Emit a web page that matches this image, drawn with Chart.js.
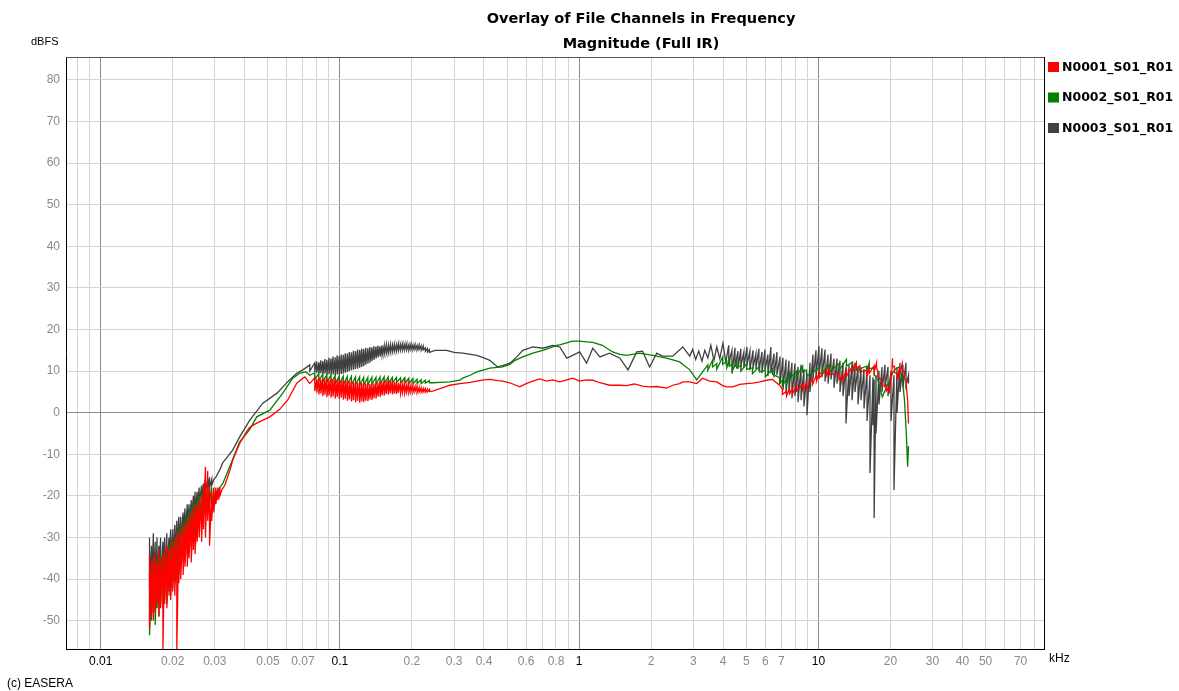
<!DOCTYPE html>
<html>
<head>
<meta charset="utf-8">
<title>Overlay of File Channels in Frequency</title>
<script src="https://cdn.jsdelivr.net/npm/chart.js@4.4.1/dist/chart.umd.min.js"></script>
<style>
  body { margin: 0; background: #fff; }
  #wrap { position: relative; width: 1179px; height: 691px; }
</style>
</head>
<body>
<div id="wrap"><canvas id="freqChart" width="1179" height="691"></canvas></div>
<script>
// ================== DATA ==================
const titleLines = ["Overlay of File Channels in Frequency", "Magnitude (Full IR)"];
const seriesNames = ["N0001_S01_R01", "N0002_S01_R01", "N0003_S01_R01"];
const seriesColors = ["#ff0000", "#008000", "#404040"];

// x gridlines (kHz) and the ones that carry a label
const gridFreqs = [0.008, 0.009,
  0.01, 0.02, 0.03, 0.04, 0.05, 0.06, 0.07, 0.08, 0.09,
  0.1, 0.2, 0.3, 0.4, 0.5, 0.6, 0.7, 0.8, 0.9,
  1, 2, 3, 4, 5, 6, 7, 8, 9,
  10, 20, 30, 40, 50, 60, 70, 80];
const freqLabels = [0.01, 0.02, 0.03, 0.05, 0.07, 0.1, 0.2, 0.3, 0.4, 0.6, 0.8,
  1, 2, 3, 4, 5, 6, 7, 10, 20, 30, 40, 50, 70];
const dbTicks = [-50, -40, -30, -20, -10, 0, 10, 20, 30, 40, 50, 60, 70, 80];

// [kHz, dBFS] or, where the trace is a noisy band, [kHz, top dBFS, bottom dBFS]
const redTrace = [
  [0.0160,-34,-52],[0.0163,-36,-49],[0.0166,-35,-50],[0.0169,-34,-48],[0.0172,-36,-46],[0.0175,-33,-49],
  [0.0178,-35,-47],[0.0182,-34,-57],[0.0185,-33,-46],[0.0189,-32,-47],[0.0193,-33,-44],[0.0196,-31,-45],
  [0.0200,-32,-43],[0.0204,-30,-44],[0.0208,-29,-57],[0.0212,-29,-41],[0.0216,-28,-40],[0.0221,-27,-39],
  [0.0225,-27,-37],[0.0230,-26,-37],[0.0234,-25,-35],[0.0239,-24,-36],[0.0244,-23,-33],[0.0248,-22,-34],
  [0.0253,-22,-31],[0.0258,-21,-30],[0.0264,-20,-31],[0.0269,-18,-28],[0.0274,-13,-30],[0.0280,-14,-26],
  [0.0285,-18,-32],[0.0291,-19,-26],[0.0297,-18,-24],[0.0303,-18,-22],[0.0309,-18,-21],[0.0315,-18,-20],
  [0.0321,-18.5],[0.0330,-17.5],[0.0346,-14],[0.0356,-11.5],[0.0381,-7.4],[0.0408,-4.5],[0.0420,-3.5],
  [0.0449,-2.5],[0.0509,-1.0],[0.0560,0.8],[0.0604,3.0],[0.0660,7.1],[0.0700,8.3],[0.0714,8.6],[0.0748,7.0],
  [0.0785,8.4,5.2],[0.0800,8.1,4.8],[0.0816,8.5,4.4],[0.0832,8.0,4.6],[0.0848,8.3,4.0],[0.0865,8.1,4.3],
  [0.0882,8.4,3.8],[0.0900,7.9,4.1],[0.0918,8.2,3.6],[0.0936,8.0,3.9],[0.0955,8.3,3.4],[0.0974,7.8,3.8],
  [0.0993,8.1,3.3],[0.1013,7.7,3.6],[0.1033,8.0,3.1],[0.1053,7.6,3.4],[0.1074,7.9,2.9],[0.1095,7.5,3.2],
  [0.1117,7.8,2.7],[0.1139,7.3,3.0],[0.1162,7.6,2.5],[0.1185,7.2,2.8],[0.1209,7.5,2.4],[0.1233,7.1,2.7],
  [0.1257,7.3,2.5],[0.1282,7.0,2.9],[0.1308,7.2,2.8],[0.1334,6.9,3.2],[0.1360,7.1,3.1],[0.1387,7.0,3.5],
  [0.1415,7.3,3.4],[0.1443,7.2,3.9],[0.1472,7.6,3.8],[0.1501,7.4,4.2],[0.1531,7.8,4.1],[0.1562,7.6,4.5],
  [0.1593,7.9,4.4],[0.1625,7.6,4.7],[0.1657,7.7,4.4],[0.1690,7.4,4.6],[0.1724,7.5,4.5],[0.1758,7.2,4.8],
  [0.1793,7.3,4.6],[0.1829,7.0,4.9],[0.1866,7.1,4.7],[0.1903,6.8,5.0],[0.1941,6.9,4.8],[0.1980,6.6,5.0],
  [0.2019,6.6,4.9],[0.2060,6.3,5.1],[0.2101,6.4,4.8],[0.2143,6.1,5.0],[0.2186,6.0,4.9],[0.2230,5.8,5.0],
  [0.2274,5.8,4.9],[0.2320,5.6,5.0],[0.2366,5.6,5.1],
  [0.244,5.2],[0.262,5.8],[0.288,6.6],[0.317,7.0],[0.350,7.3],[0.373,7.6],[0.400,7.9],[0.423,8.0],
  [0.456,7.7],[0.479,7.6],[0.513,7.2],[0.564,6.2],[0.600,7.0],[0.640,7.6],[0.684,8.1],[0.730,7.6],
  [0.775,7.9],[0.828,7.4],[0.887,7.9],[0.939,8.3],[1.005,7.6],[1.074,7.9],[1.14,7.8],[1.22,7.2],
  [1.34,6.6],[1.48,6.6],[1.58,6.5],[1.70,6.9],[1.84,6.4],[1.97,6.2],[2.11,6.3],[2.32,5.9],
  [2.46,6.6],[2.63,7.0],[2.71,7.4],[2.90,7.4],[3.10,7.0],[3.28,8.3],[3.51,7.6],[3.76,7.4],
  [3.98,6.5],[4.14,6.2],[4.38,6.2],[4.69,6.8],[5.01,7.0],[5.31,7.1],[5.68,7.4],[6.07,7.8],
  [6.43,8.0],[6.88,6.6],[7.08,5.6,4.4],[7.36,5.2,4.0],[7.58,5.9,4.6],[7.80,5.8,4.6],[8.11,6.5,5.2],
  [8.59,6.8,5.4],[8.92,7.2,5.8],[9.45,8.3,6.8],[9.82,9.0,7.6],[10.1,9.8,8.4],[10.8,10.3,8.9],[11.1,10.4,9.2],
  [12.2,9.5,8.0],[12.6,9.0,7.6],[13.1,10.2,8.8],[13.9,11.2,9.8],[14.4,12.0,10.6],[14.9,11.3,9.8],
  [15.9,10.2,8.8],[16.3,10.9,9.4],[17.1,11.3,9.8],[17.5,12.0,10.6],[17.7,10.2,8.6],[18.5,7.8,6.4],
  [19.2,6.8,5.2],[19.8,6.2,4.6],[20.2,9.8,8.2],[20.4,13.1,11.0],[20.8,11.2,9.6],[21.4,9.4,7.8],
  [21.8,10.8,9.2],[22.4,11.8,10.2],[22.9,9.8,8.2],[23.3,7.8,6.4],[23.6,3.0],[23.8,-2.6]
];

const greenTrace = [
  [0.0160,-38,-53.5],[0.0163,-37,-50],[0.0166,-36,-48],[0.0169,-36,-51],[0.0172,-35,-47],[0.0175,-35,-49],
  [0.0178,-34,-46],[0.0182,-34,-47],[0.0185,-33,-45],[0.0189,-33,-46],[0.0193,-32,-43],[0.0196,-31,-44],
  [0.0200,-31,-42],[0.0204,-30,-41],[0.0208,-29,-40],[0.0212,-28,-39],[0.0216,-27,-37],[0.0221,-27,-36],
  [0.0225,-26,-35],[0.0230,-25,-34],[0.0234,-24,-33],[0.0239,-23,-32],[0.0244,-22,-30],[0.0248,-22,-29],
  [0.0253,-21,-28],[0.0258,-20,-27],[0.0264,-19,-26],[0.0269,-19,-25],[0.0274,-18,-24],[0.0280,-18,-23],
  [0.0285,-18,-22],[0.0291,-18,-21],[0.0300,-19.5],[0.0310,-18.5],
  [0.0324,-17],[0.0346,-13],[0.0381,-7],[0.0418,-4.2],[0.0449,-1.0],[0.0509,0.6],[0.0577,4.7],
  [0.0635,8.3],[0.0679,9.5],[0.0720,9.8],[0.0748,9.0],
  [0.0785,9.6,8.0],[0.0816,9.4,7.6],[0.0848,9.3,7.5],[0.0882,9.1,7.3],[0.0918,9.0,7.2],[0.0955,8.9,7.0],
  [0.0993,8.8,6.9],[0.1033,8.8,6.8],[0.1074,8.7,6.8],[0.1117,8.7,6.7],[0.1162,8.6,6.7],[0.1209,8.6,6.6],
  [0.1257,8.5,6.6],[0.1308,8.5,6.7],[0.1360,8.5,6.8],[0.1415,8.5,6.9],[0.1472,8.6,7.0],[0.1531,8.6,7.1],
  [0.1593,8.6,7.1],[0.1657,8.5,7.2],[0.1724,8.5,7.2],[0.1793,8.4,7.1],[0.1866,8.4,7.1],[0.1941,8.3,7.0],
  [0.2019,8.2,7.0],[0.2101,8.0,7.0],[0.2186,7.9,7.0],[0.2274,7.8,7.1],[0.2366,7.7,7.2],
  [0.244,7.2],[0.262,7.3],[0.288,7.4],[0.317,7.8],[0.326,8.3],[0.350,9.0],[0.373,9.8],[0.400,10.3],
  [0.423,10.7],[0.456,10.9],[0.479,11.0],[0.513,11.6],[0.540,12.6],[0.581,13.4],[0.640,14.3],[0.704,15.0],
  [0.775,15.8],[0.805,16.2],[0.828,16.3],[0.887,16.8],[0.912,17.0],[0.939,17.2],[1.005,17.2],[1.074,17.0],
  [1.14,16.9],[1.25,16.2],[1.38,14.6],[1.48,14.0],[1.58,13.8],[1.79,14.3],[2.03,13.8],[2.32,13.1],
  [2.63,12.2],[2.90,10.3],[3.10,7.9],[3.28,9.8],[3.45,11.5,10.2],[3.61,12.6,11.0],[3.76,11.8,10.4],
  [3.98,13.4,11.6],[4.14,12.4,10.8],[4.26,12.8,11.2],[4.38,11.6,10.2],[4.55,12.2,10.8],[4.75,11.4,10.0],
  [5.01,11.8,10.4],[5.30,10.8,9.4],[5.68,11.2,9.8],[6.00,10.2,8.6],[6.43,10.6,9.2],[6.88,8.4,7.0],
  [7.08,7.8,6.6],[7.36,8.0,6.8],[7.58,9.4,8.2],[8.11,10.0,8.8],[8.59,11.2,9.8],[8.92,10.2,8.8],
  [10.1,10.8,9.2],[11.1,11.4,9.8],[12.2,11.8,10.2],[13.1,12.8,11.2],[13.9,12.2,10.6],[14.4,11.8,10.2],
  [15.9,11.2,9.8],[16.3,12.0,10.6],[17.1,10.8,9.2],[17.7,8.0],[18.5,3.8],[19.2,6.0],[19.8,7.5],
  [20.4,9.5],[21.0,10.5],[21.8,11.0],[22.4,8.5],[22.9,3.0],[23.3,-5],[23.6,-13],[23.8,-8]
];

const grayTrace = [
  [0.0160,-30,-42],[0.0163,-32,-44],[0.0166,-29,-40],[0.0169,-31,-45],[0.0172,-30,-42],[0.0175,-32,-40],
  [0.0178,-30,-41],[0.0182,-31,-39],[0.0185,-30,-40],[0.0189,-29,-38],[0.0193,-30,-37],[0.0196,-28,-36],
  [0.0200,-28,-36],[0.0204,-27,-35],[0.0208,-26,-34],[0.0212,-25,-32],[0.0216,-25,-31],[0.0221,-24,-30],
  [0.0225,-23,-29],[0.0230,-22,-28],[0.0234,-22,-27],[0.0239,-21,-26],[0.0244,-20,-25],[0.0248,-19,-24],
  [0.0253,-19,-23],[0.0258,-18,-22],[0.0264,-17.5,-21],[0.0269,-17,-20],[0.0274,-16,-19],[0.0280,-16,-18.5],
  [0.0285,-15.5,-18],[0.0291,-16,-17.5],
  [0.0297,-16],[0.0303,-15.5],[0.0316,-13.5],[0.0324,-12],[0.0340,-10.5],[0.0356,-9],[0.0381,-5.8],
  [0.0420,-1.8],[0.0476,2.3],[0.0546,4.7],[0.0604,7.4],[0.0660,9.5],[0.0700,10.3],[0.0748,11.5,10.0],
  [0.0785,12.0,9.8],[0.0800,12.3,9.6],[0.0816,12.1,9.4],[0.0832,12.6,9.5],[0.0848,12.4,9.2],[0.0865,12.9,9.4],
  [0.0882,12.7,9.1],[0.0900,13.2,9.3],[0.0918,13.0,9.0],[0.0936,13.5,9.2],[0.0955,13.3,8.9],[0.0974,13.8,9.2],
  [0.0993,13.6,9.0],[0.1013,14.0,9.3],[0.1033,13.9,9.4],[0.1053,14.3,9.6],[0.1074,14.2,9.8],[0.1095,14.6,10.0],
  [0.1117,14.5,10.2],[0.1139,14.9,10.3],[0.1162,14.8,10.5],[0.1185,15.2,10.6],[0.1209,15.1,10.8],[0.1233,15.4,11.0],
  [0.1257,15.3,11.2],[0.1282,15.6,11.5],[0.1308,15.5,11.8],[0.1334,15.8,12.0],[0.1360,15.7,12.4],[0.1387,16.0,12.7],
  [0.1415,15.9,13.0],[0.1443,16.1,13.3],[0.1472,16.0,13.5],[0.1501,16.2,13.8],[0.1531,16.1,14.0],[0.1562,16.3,14.2],
  [0.1593,16.2,14.3],[0.1625,16.4,14.5],[0.1657,16.3,14.6],[0.1690,16.5,14.7],[0.1724,16.4,14.8],[0.1758,16.6,14.9],
  [0.1793,16.5,15.0],[0.1829,16.6,15.0],[0.1866,16.5,15.1],[0.1903,16.6,15.1],[0.1941,16.4,15.0],[0.1980,16.5,15.2],
  [0.2019,16.3,15.1],[0.2060,16.4,15.2],[0.2101,16.2,15.1],[0.2143,16.3,15.2],[0.2186,16.1,15.0],[0.2230,16.0,15.1],
  [0.2274,15.6,14.8],[0.2320,15.4,14.6],[0.2366,15.2,14.5],
  [0.250,15.0],[0.279,15.0],[0.300,14.5],[0.326,14.3],[0.373,13.8],[0.400,13.2],[0.423,12.6],[0.445,11.5],
  [0.456,11.0],[0.479,11.3],[0.513,11.9],[0.540,13.0],[0.581,15.0],[0.640,15.8],[0.704,15.5],[0.775,16.2],
  [0.830,15.8],[0.887,13.1],[0.912,13.4],[1.005,14.6],[1.074,11.9],[1.14,15.5],[1.22,13.4],[1.34,14.3],
  [1.48,13.1],[1.60,10.3],[1.74,14.6],[1.84,14.8],[1.97,11.0],[2.11,14.3],[2.23,13.6],[2.46,13.6],
  [2.71,15.8],
  [2.90,13.6],[2.98,15.2],[3.07,12.8],[3.16,14.8],[3.26,12.4],[3.35,15.0],[3.45,13.2],[3.55,16.2],
  [3.66,12.6],[3.76,15.8],[3.87,13.0],[3.99,16.7],[4.10,12.2],
  [4.22,16.2,12.0],[4.35,15.0,9.4],[4.48,15.6,11.0],[4.61,14.8,10.5],[4.74,15.4,11.2],
  [4.88,14.6,10.8],[5.03,15.8,11.5],[5.17,14.8,10.2],[5.33,15.0,10.8],[5.48,14.2,10.5],[5.64,15.4,10.0],
  [5.81,14.6,9.5],[5.98,15.2,10.2],[6.15,14.0,8.8],[6.33,15.8,9.5],[6.52,14.2,8.5],[6.71,14.6,9.0],
  [6.91,13.5,7.0],[7.11,13.2,5.5],[7.32,12.8,4.5],[7.53,12.5,5.0],[7.75,12.0,3.5],[7.98,11.8,4.0],
  [8.22,11.0,2.5],[8.46,11.5,3.0],[8.70,10.5,1.5],[8.96,9.5,-0.6],[9.22,12.0,5.0],[9.49,14.0,8.0],
  [9.77,15.0,8.5],[10.06,16.0,9.0],[10.35,15.5,8.5],[10.66,15.2,7.5],[10.97,14.0,7.0],[11.29,14.2,8.0],
  [11.62,13.0,6.0],[11.96,13.0,7.0],[12.31,12.5,5.0],[12.67,12.0,4.0],[13.04,11.0,-2.6],[13.43,11.5,4.0],
  [13.82,11.8,3.0],[14.22,12.0,5.0],[14.64,11.0,2.0],[15.07,11.0,3.0],[15.51,10.5,1.0],[15.97,10.0,-2.0],
  [16.43,9.0,-14.5],[16.91,8.5,-3.0],[17.10,8.0,-25.3],[17.41,9.0,-5.0],[17.92,10.0,2.0],[18.44,11.0,5.0],
  [18.98,11.5,6.0],[19.54,11.0,4.0],[20.11,10.0,-2.0],[20.70,9.0,-18.6],[21.31,11.0,0],[21.93,12.0,5.0],
  [22.57,11.5,6.0],[23.23,12.0,6.5],[23.80,9.0,7.0]
];

const traces = [redTrace, greenTrace, grayTrace];

// ================== HELPERS ==================
const FONT = '"Liberation Sans", Arial, sans-serif';
const BOLD_FONT = '"DejaVu Sans", Verdana, sans-serif';
const near = (a, b) => Math.abs(a - b) <= Math.abs(b) * 1e-6;
const isDecade = (v) => Math.abs(Math.log10(v) - Math.round(Math.log10(v))) < 1e-6;

// a band entry becomes a vertical stroke at its frequency
function toPoints(trace) {
  return trace.flatMap(e =>
    e.length === 3 ? [{ x: e[0], y: e[1] }, { x: e[0], y: e[2] }] : [{ x: e[0], y: e[1] }]
  );
}

// texts and frame that EASERA draws outside the plot
const easeraText = {
  id: "easeraText",
  afterDraw(chart) {
    const ctx = chart.ctx;
    const a = chart.chartArea;
    ctx.save();
    ctx.lineWidth = 1;
    ctx.strokeStyle = "#555";
    ctx.beginPath();
    ctx.moveTo(a.left, a.top + 0.5);
    ctx.lineTo(a.right, a.top + 0.5);
    ctx.stroke();
    ctx.strokeStyle = "#000";
    ctx.beginPath();
    ctx.moveTo(a.right + 0.5, a.top);
    ctx.lineTo(a.right + 0.5, a.bottom);
    ctx.stroke();

    ctx.fillStyle = "#000";
    ctx.textBaseline = "middle";
    ctx.textAlign = "center";
    ctx.font = "bold 14.5px " + BOLD_FONT;
    ctx.fillText(titleLines[0], 641, 19);
    ctx.fillText(titleLines[1], 641, 44);

    ctx.textAlign = "left";
    ctx.font = "11px " + FONT;
    ctx.fillText("dBFS", 31, 42);
    ctx.font = "12px " + FONT;
    ctx.fillText("kHz", 1049, 659);
    ctx.fillText("(c) EASERA", 7, 684);

    ctx.font = "bold 12.5px " + BOLD_FONT;
    seriesNames.forEach((name, i) => {
      const y = 67 + i * 30.5;
      ctx.fillStyle = seriesColors[i];
      ctx.fillRect(1048, y - 5, 11, 10);
      ctx.fillStyle = "#000";
      ctx.fillText(name, 1062, y + 0.5);
    });
    ctx.restore();
  }
};

// ================== CHART ==================
const ctx = document.getElementById("freqChart").getContext("2d");
new Chart(ctx, {
  type: "scatter",
  data: {
    datasets: traces.map((t, i) => ({
      label: seriesNames[i],
      data: toPoints(t),
      showLine: true,
      borderColor: seriesColors[i],
      backgroundColor: seriesColors[i],
      borderWidth: 1.3,
      pointRadius: 0,
      tension: 0
    }))
  },
  options: {
    responsive: false,
    animation: false,
    layout: { padding: { left: 0, top: 57, right: 135, bottom: 0 } },
    plugins: {
      legend: { display: false },
      title: { display: false },
      tooltip: { enabled: false }
    },
    scales: {
      x: {
        type: "logarithmic",
        min: 0.00716,
        max: 87.7,
        afterBuildTicks: (axis) => { axis.ticks = gridFreqs.map(v => ({ value: v })); },
        afterFit: (axis) => { axis.height = 42; },
        border: { color: "#000", width: 1 },
        grid: {
          drawTicks: false,
          color: (c) => (c.tick && isDecade(c.tick.value) ? "#8c8c8c" : "#d4d4d4"),
          lineWidth: 1
        },
        ticks: {
          autoSkip: false,
          maxRotation: 0,
          padding: 5,
          font: { family: FONT, size: 12 },
          color: (c) => (c.tick && isDecade(c.tick.value) ? "#000" : "#8a8a8a"),
          callback: (v) => (freqLabels.some(l => near(v, l)) ? String(v) : "")
        }
      },
      y: {
        min: -56.8,
        max: 85.5,
        afterBuildTicks: (axis) => { axis.ticks = dbTicks.map(v => ({ value: v })); },
        afterFit: (axis) => { axis.width = 66; },
        border: { color: "#000", width: 1 },
        grid: {
          drawTicks: false,
          color: (c) => (c.tick && c.tick.value === 0 ? "#8c8c8c" : "#d4d4d4"),
          lineWidth: 1
        },
        ticks: {
          padding: 6,
          font: { family: FONT, size: 12 },
          color: "#8a8a8a",
          callback: (v) => String(v)
        }
      }
    }
  },
  plugins: [easeraText]
});
</script>
</body>
</html>
